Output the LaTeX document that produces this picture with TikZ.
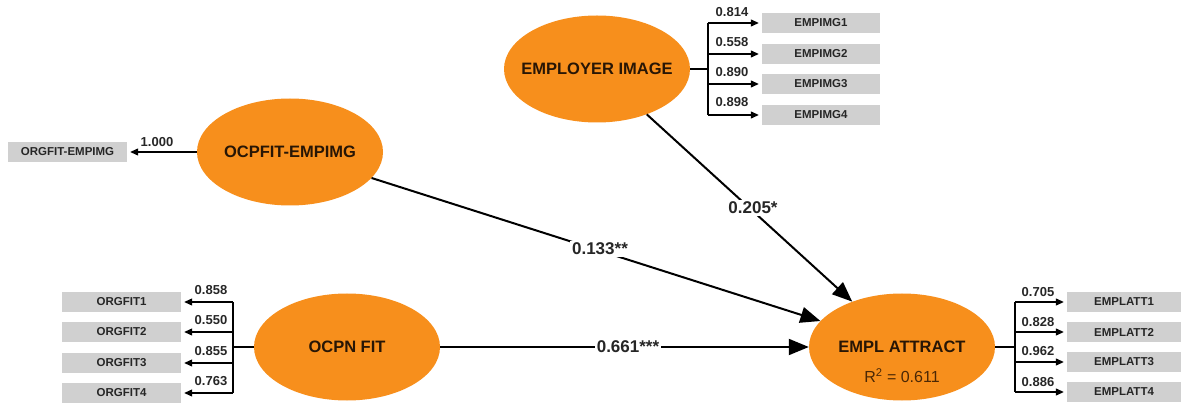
\documentclass[tikz,border=0pt]{standalone}
\usepackage{fontspec}
\setmainfont{Liberation Sans}
\usetikzlibrary{shapes.geometric,arrows.meta}
\definecolor{lvorange}{RGB}{247,143,28}
\definecolor{mvgrey}{RGB}{208,208,208}
\definecolor{lvtext}{RGB}{40,22,5}
\definecolor{r2text}{RGB}{75,40,5}
\tikzset{
  lv/.style={ellipse, fill=lvorange, minimum width=186pt, minimum height=107pt, inner xsep=-30pt, inner ysep=0pt,
             font=\bfseries\fontsize{16.5}{18}\selectfont, text=lvtext},
  mv/.style={rectangle, fill=mvgrey, minimum width=118pt, minimum height=20pt, inner sep=0pt,
             font=\bfseries\fontsize{11.5}{13}\selectfont, text=black!85},
  bus/.style={line width=1.2pt},
  load/.style={line width=1.2pt, -{Triangle[length=8pt,width=7pt]}, shorten >=3pt},
  pathar/.style={line width=2pt, -{Triangle[length=20pt,width=16pt]}},
  loadlbl/.style={font=\bfseries\fontsize{13}{15}\selectfont, inner sep=0pt, text=black!85},
  pathlbl/.style={font=\bfseries\fontsize{17}{19}\selectfont, fill=white, inner sep=2pt, text=black!85},
}
\begin{document}
\begin{tikzpicture}[x=1pt,y=-1pt]
\useasboundingbox (0,0) rectangle (1181,403);

% latent variables
\node[lv] (emp) at (597,69) {EMPLOYER IMAGE};
\node[lv] (ocpfit) at (290,152) {OCPFIT-EMPIMG};
\node[lv] (ocpn) at (347,347) {OCPN FIT};
\node[lv] (attract) at (902,347) {EMPL ATTRACT};
\node[font=\fontsize{16}{18}\selectfont, text=r2text, inner sep=0pt] (r2) at (902,376) {R\textsuperscript{2} = 0.611};

% indicators
\node[mv] (i1) at (821,23) {EMPIMG1};
\node[mv] (i2) at (821,54) {EMPIMG2};
\node[mv] (i3) at (821,84) {EMPIMG3};
\node[mv] (i4) at (821,115) {EMPIMG4};

\node[mv, minimum width=119pt] (oe) at (67.5,152) {ORGFIT-EMPIMG};

\node[mv, minimum width=119pt] (o1) at (121.5,302) {ORGFIT1};
\node[mv, minimum width=119pt] (o2) at (121.5,332) {ORGFIT2};
\node[mv, minimum width=119pt] (o3) at (121.5,363) {ORGFIT3};
\node[mv, minimum width=119pt] (o4) at (121.5,393) {ORGFIT4};

\node[mv, minimum width=114pt] (a1) at (1124,302) {EMPLATT1};
\node[mv, minimum width=114pt] (a2) at (1124,332) {EMPLATT2};
\node[mv, minimum width=114pt] (a3) at (1124,362) {EMPLATT3};
\node[mv, minimum width=114pt] (a4) at (1124,392) {EMPLATT4};

% buses
\coordinate (empbus) at (708,69);
\coordinate (ocpnbus) at (233,347);
\coordinate (attbus) at (1015,347);

\draw[bus] (emp.east) -- (empbus);
\draw[bus] (empbus |- i1.west) -- (empbus |- i4.west);
\foreach \b in {i1,i2,i3,i4} \draw[load] (empbus |- \b.west) -- (\b.west);

\draw[bus] (ocpn.west) -- (ocpnbus);
\draw[bus] (ocpnbus |- o1.east) -- (ocpnbus |- o4.east);
\foreach \b in {o1,o2,o3,o4} \draw[load] (ocpnbus |- \b.east) -- (\b.east);

\draw[bus] (attract.east) -- (attbus);
\draw[bus] (attbus |- a1.west) -- (attbus |- a4.west);
\foreach \b in {a1,a2,a3,a4} \draw[load] (attbus |- \b.west) -- (\b.west);

\draw[load] (ocpfit.west) -- (oe.east);

% loading labels
\node[loadlbl] (l1) at (732,12) {0.814};
\node[loadlbl] (l2) at (732,42) {0.558};
\node[loadlbl] (l3) at (732,72) {0.890};
\node[loadlbl] (l4) at (732,102) {0.898};

\node[loadlbl] (l5) at (157,142) {1.000};

\node[loadlbl] (l6) at (211,290) {0.858};
\node[loadlbl] (l7) at (211,320) {0.550};
\node[loadlbl] (l8) at (211,351) {0.855};
\node[loadlbl] (l9) at (211,381) {0.763};

\node[loadlbl] (l10) at (1038,292) {0.705};
\node[loadlbl] (l11) at (1038,322) {0.828};
\node[loadlbl] (l12) at (1038,351) {0.962};
\node[loadlbl] (l13) at (1038,382) {0.886};

% structural paths
\draw[pathar] (ocpfit) -- (attract);
\draw[pathar] (emp) -- (attract);
\draw[pathar] (ocpn) -- (attract);

\node[pathlbl] (p1) at (600,249) {0.133**};
\node[pathlbl] (p2) at (753,208) {0.205*};
\node[pathlbl] (p3) at (628,347) {0.661***};
\end{tikzpicture}
\end{document}
